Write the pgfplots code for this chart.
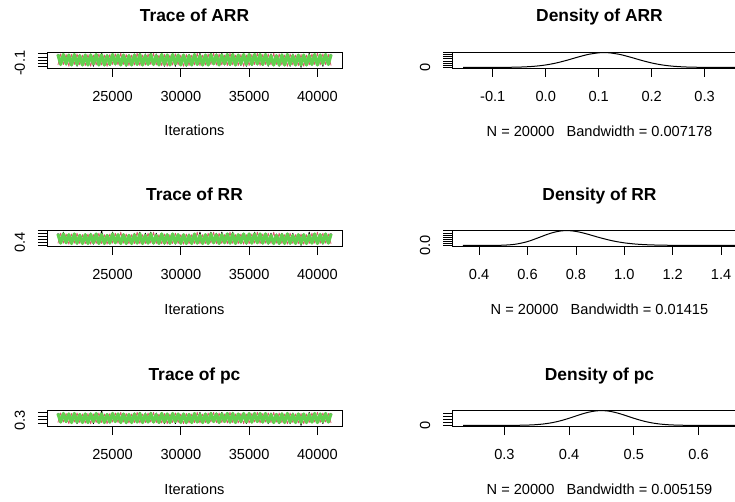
\documentclass[border=0pt]{standalone}
\usepackage{fontspec}
\setmainfont{Liberation Sans}
\usepackage{pgfplots}
\usepackage{pgfplotstable}
\pgfplotsset{compat=1.18}

\definecolor{chainred}{HTML}{DF536B}
\definecolor{chaingreen}{HTML}{61D04F}

\newcommand\labfont{\fontsize{14.6}{17}\selectfont}
\newcommand\titlefont{\fontsize{17.4}{20}\selectfont\bfseries}

% MCMC traces, three chains (it, chain 1, chain 2, chain 3)
\pgfplotstableread{
it c1 c2 c3
21000 0.296 -0.058 0.278
21200 -0.041 0.296 -0.041
21400 0.319 -0.041 0.278
21600 -0.058 0.278 -0.023
21800 0.261 -0.099 0.261
22000 -0.076 0.278 -0.058
22200 0.278 -0.041 0.278
22400 -0.099 0.296 -0.041
22600 0.261 -0.058 0.243
22800 -0.076 0.261 -0.058
23000 0.278 -0.076 0.261
23200 -0.041 0.278 -0.058
23400 0.296 -0.099 0.261
23600 -0.099 0.261 -0.023
23800 0.261 -0.058 0.278
24000 -0.058 0.296 -0.058
24200 0.338 -0.058 0.261
24400 -0.058 0.261 -0.058
24600 0.261 -0.099 0.243
24800 -0.076 0.278 -0.041
25000 0.319 -0.041 0.278
25200 -0.058 0.296 -0.023
25400 0.261 -0.058 0.261
25600 -0.076 0.319 -0.058
25800 0.278 -0.041 0.261
26000 -0.099 0.278 -0.058
26200 0.261 -0.076 0.243
26400 -0.058 0.261 -0.058
26600 0.296 -0.058 0.261
26800 -0.041 0.319 -0.041
27000 0.319 -0.076 0.278
27200 -0.058 0.261 -0.058
27400 0.296 -0.058 0.243
27600 -0.041 0.296 -0.041
27800 0.319 -0.041 0.278
28000 -0.058 0.319 -0.041
28200 0.296 -0.058 0.243
28400 -0.041 0.261 -0.058
28600 0.278 -0.076 0.278
28800 -0.099 0.278 -0.041
29000 0.278 -0.099 0.261
29200 -0.076 0.261 -0.058
29400 0.261 -0.058 0.278
29600 -0.099 0.296 -0.023
29800 0.278 -0.058 0.261
30000 -0.076 0.261 -0.058
30200 0.261 -0.099 0.261
30400 -0.099 0.278 -0.058
30600 0.278 -0.076 0.243
30800 -0.076 0.261 -0.058
31000 0.261 -0.058 0.278
31200 -0.058 0.319 -0.041
31400 0.319 -0.076 0.243
31600 -0.076 0.261 -0.058
31800 0.261 -0.058 0.261
32000 -0.058 0.296 -0.058
32200 0.319 -0.041 0.278
32400 -0.041 0.319 -0.023
32600 0.296 -0.058 0.261
32800 -0.058 0.296 -0.058
33000 0.319 -0.058 0.261
33200 -0.058 0.261 -0.023
33400 0.261 -0.076 0.278
33600 -0.076 0.319 -0.041
33800 0.319 -0.058 0.278
34000 -0.058 0.261 -0.058
34200 0.261 -0.076 0.261
34400 -0.076 0.278 -0.023
34600 0.278 -0.099 0.278
34800 -0.099 0.261 -0.041
35000 0.261 -0.076 0.278
35200 -0.076 0.278 -0.041
35400 0.319 -0.041 0.278
35600 -0.058 0.319 -0.023
35800 0.261 -0.076 0.278
36000 -0.076 0.278 -0.041
36200 0.278 -0.041 0.278
36400 -0.099 0.296 -0.041
36600 0.296 -0.058 0.243
36800 -0.041 0.319 -0.058
37000 0.278 -0.041 0.243
37200 -0.099 0.296 -0.058
37400 0.296 -0.058 0.261
37600 -0.058 0.261 -0.058
37800 0.261 -0.099 0.278
38000 -0.099 0.296 -0.041
38200 0.296 -0.058 0.243
38400 -0.058 0.261 -0.058
38600 0.261 -0.076 0.261
38800 -0.134 0.278 -0.058
39000 0.278 -0.099 0.261
39200 -0.076 0.261 -0.058
39400 0.319 -0.058 0.243
39600 -0.058 0.296 -0.041
39800 0.261 -0.041 0.278
40000 -0.076 0.319 -0.058
40200 0.278 -0.058 0.261
40400 -0.099 0.296 -0.023
40600 0.278 -0.041 0.278
40800 -0.041 0.278 -0.041
41000 0.296 -0.076 0.278
}\traceARR

\pgfplotstableread{
it c1 c2 c3
21000 1.237 0.511 1.185
21200 0.534 1.237 0.534
21400 1.311 0.534 1.185
21600 0.511 1.185 0.557
21800 1.134 0.462 1.134
22000 0.489 1.185 0.511
22200 1.185 0.534 1.185
22400 0.462 1.237 0.534
22600 1.134 0.511 1.086
22800 0.489 1.134 0.511
23000 1.185 0.489 1.134
23200 0.534 1.185 0.511
23400 1.237 0.462 1.134
23600 0.462 1.134 0.557
23800 1.134 0.511 1.185
24000 0.511 1.237 0.511
24200 1.420 0.511 1.134
24400 0.511 1.134 0.511
24600 1.134 0.462 1.086
24800 0.489 1.185 0.534
25000 1.311 0.534 1.185
25200 0.511 1.237 0.557
25400 1.134 0.511 1.134
25600 0.489 1.311 0.511
25800 1.185 0.534 1.134
26000 0.462 1.185 0.511
26200 1.134 0.489 1.086
26400 0.511 1.134 0.511
26600 1.237 0.511 1.134
26800 0.534 1.311 0.534
27000 1.311 0.489 1.185
27200 0.511 1.134 0.511
27400 1.237 0.511 1.086
27600 0.534 1.237 0.534
27800 1.311 0.534 1.185
28000 0.511 1.311 0.534
28200 1.237 0.511 1.086
28400 0.534 1.134 0.511
28600 1.185 0.489 1.185
28800 0.462 1.185 0.534
29000 1.185 0.462 1.134
29200 0.489 1.134 0.511
29400 1.134 0.511 1.185
29600 0.462 1.237 0.557
29800 1.185 0.511 1.134
30000 0.489 1.134 0.511
30200 1.134 0.462 1.134
30400 0.462 1.185 0.511
30600 1.185 0.489 1.086
30800 0.489 1.134 0.511
31000 1.134 0.511 1.185
31200 0.511 1.311 0.534
31400 1.311 0.489 1.086
31600 0.489 1.134 0.511
31800 1.134 0.511 1.134
32000 0.511 1.237 0.511
32200 1.311 0.534 1.185
32400 0.534 1.311 0.557
32600 1.237 0.511 1.134
32800 0.511 1.237 0.511
33000 1.311 0.511 1.134
33200 0.511 1.134 0.557
33400 1.134 0.489 1.185
33600 0.489 1.311 0.534
33800 1.311 0.511 1.185
34000 0.511 1.134 0.511
34200 1.134 0.489 1.134
34400 0.489 1.185 0.557
34600 1.185 0.462 1.185
34800 0.462 1.134 0.534
35000 1.134 0.489 1.185
35200 0.489 1.185 0.534
35400 1.311 0.534 1.185
35600 0.511 1.311 0.557
35800 1.134 0.489 1.185
36000 0.489 1.185 0.534
36200 1.185 0.534 1.185
36400 0.462 1.237 0.534
36600 1.237 0.511 1.086
36800 0.534 1.311 0.511
37000 1.185 0.534 1.086
37200 0.462 1.237 0.511
37400 1.237 0.511 1.134
37600 0.511 1.134 0.511
37800 1.134 0.462 1.185
38000 0.462 1.237 0.534
38200 1.237 0.511 1.086
38400 0.511 1.134 0.511
38600 1.134 0.489 1.134
38800 0.375 1.185 0.511
39000 1.185 0.462 1.134
39200 0.489 1.134 0.511
39400 1.311 0.511 1.086
39600 0.511 1.237 0.534
39800 1.134 0.534 1.185
40000 0.489 1.311 0.511
40200 1.185 0.511 1.134
40400 0.462 1.237 0.557
40600 1.185 0.534 1.185
40800 0.534 1.185 0.534
41000 1.237 0.489 1.185
}\traceRR

\pgfplotstableread{
it c1 c2 c3
21000 0.580 0.327 0.567
21200 0.339 0.580 0.339
21400 0.596 0.339 0.567
21600 0.327 0.567 0.352
21800 0.555 0.298 0.555
22000 0.314 0.567 0.327
22200 0.567 0.339 0.567
22400 0.298 0.580 0.339
22600 0.555 0.327 0.542
22800 0.314 0.555 0.327
23000 0.567 0.314 0.555
23200 0.339 0.567 0.327
23400 0.580 0.298 0.555
23600 0.298 0.555 0.352
23800 0.555 0.327 0.567
24000 0.327 0.580 0.327
24200 0.642 0.327 0.555
24400 0.327 0.555 0.327
24600 0.555 0.298 0.542
24800 0.314 0.567 0.339
25000 0.596 0.339 0.567
25200 0.327 0.580 0.352
25400 0.555 0.327 0.555
25600 0.314 0.596 0.327
25800 0.567 0.339 0.555
26000 0.298 0.567 0.327
26200 0.555 0.314 0.542
26400 0.327 0.555 0.327
26600 0.580 0.327 0.555
26800 0.339 0.596 0.339
27000 0.596 0.314 0.567
27200 0.327 0.555 0.327
27400 0.580 0.327 0.542
27600 0.339 0.580 0.339
27800 0.596 0.339 0.567
28000 0.327 0.596 0.339
28200 0.580 0.327 0.542
28400 0.339 0.555 0.327
28600 0.567 0.314 0.567
28800 0.298 0.567 0.339
29000 0.567 0.298 0.555
29200 0.314 0.555 0.327
29400 0.555 0.327 0.567
29600 0.298 0.580 0.352
29800 0.567 0.327 0.555
30000 0.314 0.555 0.327
30200 0.555 0.298 0.555
30400 0.298 0.567 0.327
30600 0.567 0.314 0.542
30800 0.314 0.555 0.327
31000 0.555 0.327 0.567
31200 0.327 0.596 0.339
31400 0.596 0.314 0.542
31600 0.314 0.555 0.327
31800 0.555 0.327 0.555
32000 0.327 0.580 0.327
32200 0.596 0.339 0.567
32400 0.339 0.596 0.352
32600 0.580 0.327 0.555
32800 0.327 0.580 0.327
33000 0.596 0.327 0.555
33200 0.327 0.555 0.352
33400 0.555 0.314 0.567
33600 0.314 0.596 0.339
33800 0.596 0.327 0.567
34000 0.327 0.555 0.327
34200 0.555 0.314 0.555
34400 0.314 0.567 0.352
34600 0.567 0.298 0.567
34800 0.298 0.555 0.339
35000 0.555 0.314 0.567
35200 0.314 0.567 0.339
35400 0.596 0.339 0.567
35600 0.327 0.596 0.352
35800 0.555 0.314 0.567
36000 0.314 0.567 0.339
36200 0.567 0.339 0.567
36400 0.298 0.580 0.339
36600 0.580 0.327 0.542
36800 0.339 0.596 0.327
37000 0.567 0.339 0.542
37200 0.298 0.580 0.327
37400 0.580 0.327 0.555
37600 0.327 0.555 0.327
37800 0.555 0.298 0.567
38000 0.298 0.580 0.339
38200 0.580 0.327 0.542
38400 0.327 0.555 0.327
38600 0.555 0.314 0.555
38800 0.252 0.567 0.327
39000 0.567 0.298 0.555
39200 0.314 0.555 0.327
39400 0.596 0.327 0.542
39600 0.327 0.580 0.339
39800 0.555 0.339 0.567
40000 0.314 0.596 0.327
40200 0.567 0.327 0.555
40400 0.298 0.580 0.352
40600 0.567 0.339 0.567
40800 0.339 0.567 0.339
41000 0.580 0.314 0.567
}\tracePC

% kernel density estimates
\pgfplotstableread{
x y
-0.156 0.000
-0.100 0.010
-0.080 0.032
-0.060 0.094
-0.040 0.243
-0.020 0.558
0.000 1.138
0.020 2.063
0.040 3.321
0.060 4.743
0.080 6.017
0.100 6.776
0.110 6.878
0.120 6.776
0.140 6.017
0.160 4.743
0.180 3.321
0.200 2.063
0.220 1.138
0.240 0.558
0.260 0.243
0.280 0.094
0.300 0.032
0.320 0.010
0.359 0.000
}\densARR

\pgfplotstableread{
x y
0.333 0.000
0.400 0.000
0.450 0.005
0.500 0.053
0.550 0.286
0.600 0.921
0.650 1.962
0.675 2.523
0.700 3.014
0.725 3.371
0.750 3.553
0.775 3.549
0.800 3.376
0.825 3.074
0.850 2.687
0.875 2.264
0.900 1.847
0.950 1.122
1.000 0.615
1.050 0.309
1.100 0.144
1.150 0.063
1.200 0.026
1.300 0.004
1.462 0.000
}\densRR

\pgfplotstableread{
x y
0.236 0.000
0.300 0.014
0.320 0.071
0.340 0.287
0.350 0.527
0.360 0.915
0.370 1.500
0.380 2.317
0.390 3.381
0.400 4.652
0.410 6.042
0.420 7.402
0.430 8.557
0.440 9.338
0.450 9.613
0.460 9.338
0.470 8.557
0.480 7.402
0.490 6.042
0.500 4.652
0.510 3.381
0.520 2.317
0.530 1.500
0.540 0.915
0.550 0.527
0.560 0.287
0.580 0.071
0.600 0.014
0.658 0.000
}\densPC

\pgfplotsset{
  coda/.style={
    scale only axis, width=295pt, height=16pt,
    scaled ticks=false,
    axis line style={line width=0.8pt},
    tick align=outside, major tick length=9pt,
    xtick pos=bottom, ytick pos=left,
    every tick/.style={black, line width=0.8pt},
    tick label style={font=\labfont},
    xticklabel style={anchor=base, inner sep=0pt, yshift=-24.5pt},
    yticklabel style={xshift=-13pt, rotate=90, anchor=base, inner sep=0pt},
    title style={font=\titlefont, at={(axis description cs:0.5,1)}, anchor=base, inner sep=0pt, yshift=24pt},
    xlabel style={font=\labfont, at={(axis description cs:0.5,0)}, anchor=base, inner sep=0pt, yshift=-68pt},
  },
  trace/.style={coda, xmin=20200, xmax=41800,
    xtick={25000,30000,35000,40000}, xticklabels={25000,30000,35000,40000},
    yticklabel style={xshift=3pt},
    xlabel={Iterations}},
  chainA/.style={black, line width=0.8pt, line join=round},
  chainB/.style={chainred, line width=0.8pt, line join=round},
  chainC/.style={chaingreen, line width=3.2pt, line join=round},
  densline/.style={black, line width=1pt, smooth},
}

\begin{document}
\begin{tikzpicture}
\useasboundingbox (0pt,0pt) rectangle (735pt,-502pt);
\clip (0pt,0pt) rectangle (735pt,-502pt);

% ---- ARR ----
\begin{axis}[trace, at={(47pt,-52pt)}, anchor=north west,
  title={Trace of ARR}, ymin=-0.153, ymax=0.357,
  ytick={-0.1,0,0.1,0.2,0.3}, yticklabels={-0.1,,,,}]
\addplot[chainA] table[x=it, y=c1] {\traceARR};
\addplot[chainB] table[x=it, y=c2] {\traceARR};
\addplot[chainC] table[x=it, y=c3] {\traceARR};
\end{axis}
\begin{axis}[coda, at={(452pt,-52pt)}, anchor=north west,
  title={Density of ARR}, xmin=-0.177, xmax=0.38, ymin=-0.275, ymax=7.153,
  xtick={-0.1,0,0.1,0.2,0.3}, xticklabels={-0.1,0.0,0.1,0.2,0.3},
  ytick={0,1,2,3,4,5,6,7}, yticklabels={0,,,,,,,},
  xlabel={N = 20000\ \ \ Bandwidth = 0.007178}]
\addplot[densline] table[x=x, y=y] {\densARR};
\end{axis}

% ---- RR ----
\begin{axis}[trace, at={(47pt,-230pt)}, anchor=north west,
  title={Trace of RR}, ymin=0.333, ymax=1.462,
  ytick={0.4,0.6,0.8,1.0,1.2,1.4}, yticklabels={0.4,,,,,}]
\addplot[chainA] table[x=it, y=c1] {\traceRR};
\addplot[chainB] table[x=it, y=c2] {\traceRR};
\addplot[chainC] table[x=it, y=c3] {\traceRR};
\end{axis}
\begin{axis}[coda, at={(452pt,-230pt)}, anchor=north west,
  title={Density of RR}, xmin=0.288, xmax=1.507, ymin=-0.143, ymax=3.716,
  xtick={0.4,0.6,0.8,1.0,1.2,1.4}, xticklabels={0.4,0.6,0.8,1.0,1.2,1.4},
  ytick={0,0.5,1,1.5,2,2.5,3,3.5}, yticklabels={0.0,,,,,,,},
  xlabel={N = 20000\ \ \ Bandwidth = 0.01415}]
\addplot[densline] table[x=x, y=y] {\densRR};
\end{axis}

% ---- pc ----
\begin{axis}[trace, at={(47pt,-410pt)}, anchor=north west,
  title={Trace of pc}, ymin=0.236, ymax=0.658,
  ytick={0.3,0.4,0.5,0.6}, yticklabels={0.3,,,}]
\addplot[chainA] table[x=it, y=c1] {\tracePC};
\addplot[chainB] table[x=it, y=c2] {\tracePC};
\addplot[chainC] table[x=it, y=c3] {\tracePC};
\end{axis}
\begin{axis}[coda, at={(452pt,-410pt)}, anchor=north west,
  title={Density of pc}, xmin=0.219, xmax=0.675, ymin=-0.385, ymax=10.0,
  xtick={0.3,0.4,0.5,0.6}, xticklabels={0.3,0.4,0.5,0.6},
  ytick={0,2,4,6,8}, yticklabels={0,,,,},
  xlabel={N = 20000\ \ \ Bandwidth = 0.005159}]
\addplot[densline] table[x=x, y=y] {\densPC};
\end{axis}
\end{tikzpicture}
\end{document}
